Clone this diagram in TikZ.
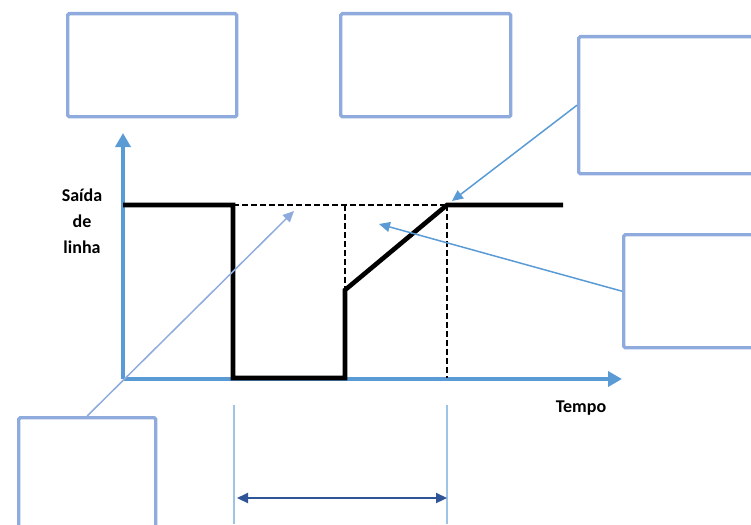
\documentclass[tikz,border=0pt]{standalone}
\usepackage{fontspec}
\setmainfont{Carlito}
\usetikzlibrary{arrows.meta}
\definecolor{axisblue}{HTML}{5B9BD5}
\definecolor{boxblue}{HTML}{8FAADC}
\definecolor{guideblue}{HTML}{9DC3E6}
\definecolor{spanblue}{HTML}{2F5597}
\tikzset{
  box/.style={draw=boxblue, line width=3.4pt, rounded corners=1.5pt, inner sep=0pt, anchor=north west, fill=white},
  axis/.style={draw=axisblue, line width=4.6pt, -{Triangle[length=14pt,width=15pt]}},
  signal/.style={draw=black, line width=4.6pt, line join=miter},
  guide/.style={draw=black, line width=2.4pt, dash pattern=on 6pt off 3pt},
  callout/.style={draw=axisblue, line width=1.5pt, -{Triangle[length=11pt,width=10pt]}},
  calloutlight/.style={callout, draw=boxblue},
  tick/.style={draw=guideblue, line width=1.8pt},
  span/.style={draw=spanblue, line width=2.2pt, {Triangle[length=11pt,width=10pt]}-{Triangle[length=11pt,width=10pt]}},
  lbl/.style={font=\fontsize{18}{26}\selectfont\bfseries, align=center, inner sep=0pt}
}
\begin{document}
\begin{tikzpicture}[x=1pt,y=-1pt]
\useasboundingbox (0,0) rectangle (751,524);
\clip (0,0) rectangle (751,524);

% empty text boxes
\node[box, minimum width=169pt, minimum height=103pt] (b1) at (66,12) {};
\node[box, minimum width=170pt, minimum height=103pt] (b2) at (339,12) {};
\node[box, minimum width=200pt, minimum height=137pt] (b3) at (577,35) {};
\node[box, minimum width=150pt, minimum height=113pt] (b4) at (622,233) {};
\node[box, minimum width=137pt, minimum height=150pt] (b5) at (17,416) {};

% key points of the signal
\coordinate (o) at (123,379);
\coordinate (ytop) at (123,133);
\coordinate (xend) at (622,379);
\coordinate (s0) at (123,205);
\coordinate (s1) at (233,205);
\coordinate (s2) at (233,378);
\coordinate (s3) at (345,378);
\coordinate (s4) at (345,290);
\coordinate (s5) at (447,205);
\coordinate (s6) at (563,205);
\coordinate (d1) at (345,205);
\coordinate (d2) at (447,378);

% axes
\draw[axis] (o) -- (ytop);
\draw[axis] (o) -- (xend);

% dashed reference lines
\draw[guide] (s1) -- (s5);
\draw[guide] (d1) -- (s4);
\draw[guide] (s5) -- (d2);

% output signal
\draw[signal] (s0) -- (s1) -- (s2) -- (s3) -- (s4) -- (s5) -- (s6);

% axis labels
\node[lbl] (ylab) at (82,221) {Saída\\de\\linha};
\node[lbl] (xlab) at (581,408) {Tempo};

% callout arrows
\coordinate (t1) at (294,211);
\coordinate (t2) at (452,201);
\coordinate (t3) at (379,224);
\draw[calloutlight] (b5.north) -- (t1);
\draw[callout] (b3.west) -- (t2);
\draw[callout] (b4.west) -- (t3);

% interval marker below the time axis
\coordinate (g1a) at (234,405);
\coordinate (g1b) at (234,524);
\coordinate (g2a) at (447,405);
\coordinate (g2b) at (447,524);
\draw[tick] (g1a) -- (g1b);
\draw[tick] (g2a) -- (g2b);
\coordinate (m1) at (237,498);
\coordinate (m2) at (447,498);
\draw[span] (m1) -- (m2);
\end{tikzpicture}
\end{document}
